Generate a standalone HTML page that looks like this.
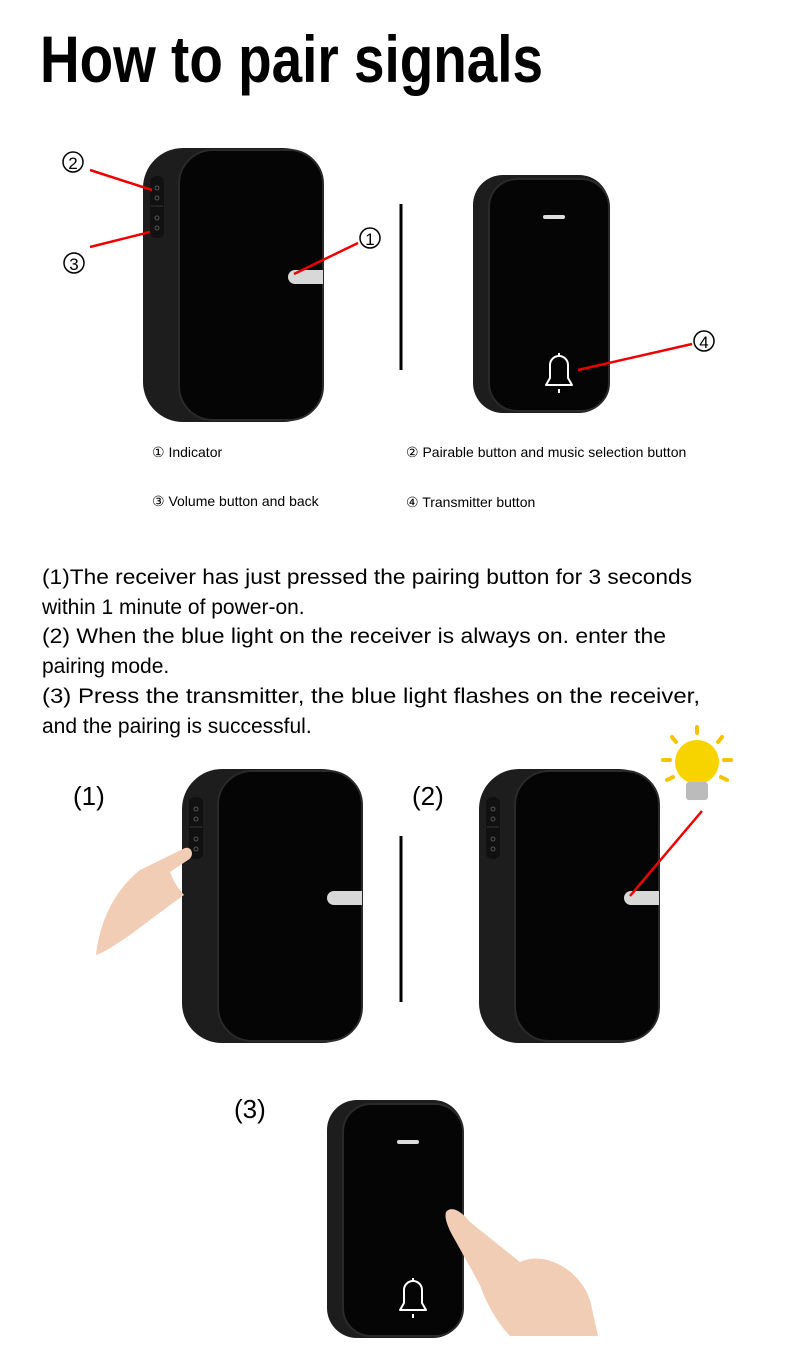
<!DOCTYPE html>
<html><head><meta charset="utf-8"><style>
html,body{margin:0;padding:0;background:#fff}
svg{display:block}
text{font-family:"Liberation Sans",sans-serif}
</style></head><body>
<svg width="790" height="1346" viewBox="0 0 790 1346" xmlns="http://www.w3.org/2000/svg">
<defs>
<g id="recv">
 <!-- outer body 180x274 -->
 <rect x="0" y="0" width="180" height="274" rx="40" fill="#1d1d1d"/>
 <rect x="36" y="2" width="144" height="270" rx="34" fill="#050505" stroke="#2a2a2a" stroke-width="2"/>
 <rect x="7" y="28" width="14" height="62" rx="6" fill="#111"/>
 <line x1="8" y1="58" x2="20" y2="58" stroke="#333"/>
 <circle cx="14" cy="40" r="2" fill="none" stroke="#555"/>
 <circle cx="14" cy="50" r="2" fill="none" stroke="#555"/>
 <circle cx="14" cy="70" r="2" fill="none" stroke="#555"/>
 <circle cx="14" cy="80" r="2" fill="none" stroke="#555"/>
 <path d="M152 122 H180 V136 H152 A7 7 0 0 1 152 122 Z" fill="#d8d8d8"/>
</g>
<g id="trans">
 <rect x="0" y="0" width="136" height="238" rx="30" fill="#1d1d1d"/>
 <rect x="16" y="4" width="120" height="232" rx="28" fill="#050505" stroke="#2a2a2a" stroke-width="2"/>
 <rect x="70" y="40" width="22" height="4" rx="2" fill="#ddd"/>
 <path d="M73 210 H99 L95 203 V190 A9 9 0 0 0 77 190 V203 Z" fill="none" stroke="#fff" stroke-width="2" stroke-linejoin="round"/>
 <line x1="86" y1="178" x2="86" y2="181" stroke="#fff" stroke-width="2"/>
 <line x1="86" y1="214" x2="86" y2="218" stroke="#fff" stroke-width="2"/>
</g>
</defs>

<text x="40" y="82" font-size="66" font-weight="bold" textLength="503" lengthAdjust="spacingAndGlyphs">How to pair signals</text>

<!-- top receiver -->
<use href="#recv" x="143" y="148"/>
<line x1="90" y1="170" x2="152" y2="190" stroke="#e00" stroke-width="2.5"/>
<line x1="90" y1="247" x2="150" y2="232" stroke="#e00" stroke-width="2.5"/>
<line x1="294" y1="274" x2="358" y2="243" stroke="#e00" stroke-width="2.5"/>
<g font-size="20" text-anchor="middle">
<circle cx="73" cy="162" r="10" fill="none" stroke="#000" stroke-width="1.5"/><text x="73" y="169" font-size="17">2</text>
<circle cx="74" cy="263" r="10" fill="none" stroke="#000" stroke-width="1.5"/><text x="74" y="270" font-size="17">3</text>
<circle cx="370" cy="238" r="10" fill="none" stroke="#000" stroke-width="1.5"/><text x="370" y="245" font-size="17">1</text>
<circle cx="704" cy="341" r="10" fill="none" stroke="#000" stroke-width="1.5"/><text x="704" y="348" font-size="17">4</text>
</g>
<line x1="401" y1="204" x2="401" y2="370" stroke="#000" stroke-width="3"/>
<use href="#trans" x="473" y="175"/>
<line x1="578" y1="370" x2="692" y2="344" stroke="#e00" stroke-width="2.5"/>

<g font-size="14">
<text x="152" y="457">① Indicator</text>
<text x="406" y="457">② Pairable button and music selection button</text>
<text x="152" y="506">③ Volume button and back</text>
<text x="406" y="507">④ Transmitter button</text>
</g>

<g font-size="21">
<text x="42" y="584" textLength="650" lengthAdjust="spacingAndGlyphs">(1)The receiver has just pressed the pairing button for 3 seconds</text>
<text x="42" y="614">within 1 minute of power-on.</text>
<text x="42" y="643" textLength="624" lengthAdjust="spacingAndGlyphs">(2) When the blue light on the receiver is always on. enter the</text>
<text x="42" y="673">pairing mode.</text>
<text x="42" y="703" textLength="658" lengthAdjust="spacingAndGlyphs">(3) Press the transmitter, the blue light flashes on the receiver,</text>
<text x="42" y="733">and the pairing is successful.</text>
</g>

<g font-size="26">
<text x="73" y="805">(1)</text>
<text x="412" y="805">(2)</text>
<text x="234" y="1118">(3)</text>
</g>

<use href="#recv" x="182" y="769"/>
<line x1="401" y1="836" x2="401" y2="1002" stroke="#000" stroke-width="3"/>
<use href="#recv" x="479" y="769"/>
<line x1="630" y1="896" x2="702" y2="811" stroke="#e00" stroke-width="2.5"/>

<!-- hand 1 -->
<path d="M96 955 C100 920 115 890 140 870 L185 848 C192 846 195 856 188 860 L170 872 C175 885 180 890 184 895 C170 905 150 920 130 935 C115 945 105 952 96 955 Z" fill="#f1cdb6"/>
<!-- bulb -->
<g>
<circle cx="697" cy="762" r="22" fill="#f7d400"/>
<rect x="686" y="782" width="22" height="18" rx="3" fill="#bbb"/>
<g stroke="#f5c400" stroke-width="4" stroke-linecap="round">
<line x1="697" y1="727" x2="697" y2="733"/><line x1="672" y1="737" x2="676" y2="742"/><line x1="722" y1="737" x2="718" y2="742"/>
<line x1="663" y1="760" x2="670" y2="760"/><line x1="731" y1="760" x2="724" y2="760"/>
<line x1="667" y1="780" x2="673" y2="777"/><line x1="727" y1="780" x2="721" y2="777"/>
</g>
</g>

<use href="#trans" x="327" y="1100"/>
<!-- hand 3 -->
<path d="M446 1212 C452 1205 462 1212 470 1222 L520 1262 C545 1250 580 1270 590 1300 L598 1336 L510 1336 C495 1320 485 1300 480 1285 L455 1240 C448 1228 444 1218 446 1212 Z" fill="#f1cdb6"/>
</svg>
</body></html>
